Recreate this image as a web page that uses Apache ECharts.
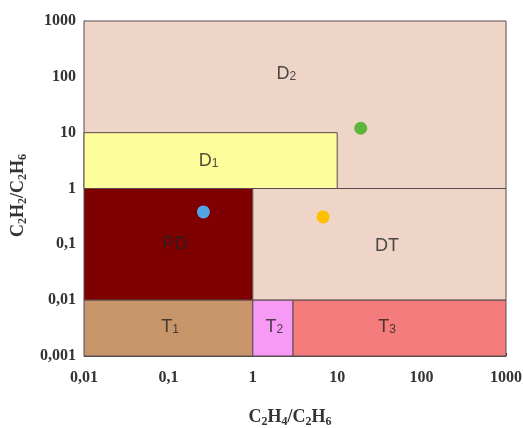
<!DOCTYPE html>
<html><head><meta charset="utf-8">
<script src="https://cdn.jsdelivr.net/npm/echarts@6/dist/echarts.min.js"></script>
<style>html,body{margin:0;padding:0;background:#fff}#c{width:523px;height:428px}</style>
</head><body><div id="c"></div>
<script>
// Zones: name, x0, x1, y0, y1, colour
const zoneNames = ['D2', 'D1', 'PD', 'DT', 'T1', 'T2', 'T3'];
const zoneX0 = [0.01, 0.01, 0.01, 1, 0.01, 1, 3];
const zoneX1 = [1000, 10, 1, 1000, 1, 3, 1000];
const zoneY0 = [1, 1, 0.01, 0.01, 0.001, 0.001, 0.001];
const zoneY1 = [1000, 10, 1, 1, 0.01, 0.01, 0.01];
const zoneColors = ['#EED5C8', '#FDFD9C', '#7E0000', '#EED5C8', '#C8956B', '#F79AF5', '#F57C7C'];
// zone label positions
const labelMain = ['D', 'D', 'PD', 'DT', 'T', 'T', 'T'];
const labelSub = ['2', '1', '', '', '1', '2', '3'];
const labelX = [2.5, 0.3, 0.12, 39, 0.105, 1.8, 39];
const labelY = [110, 3.1, 0.1, 0.093, 0.0033, 0.0033, 0.0033];
// Measured points
const pointX = [0.26, 6.8, 19];
const pointY = [0.38, 0.31, 12];
const pointColors = ['#52A6E6', '#FFC000', '#5EB53C'];
// tick labels
const xTickLabels = ['0,01', '0,1', '1', '10', '100', '1000'];
const yTickLabels = ['0,001', '0,01', '0,1', '1', '10', '100', '1000'];

const chart = echarts.init(document.getElementById('c'));
const zoneData = zoneNames.map((n, i) => [zoneX0[i], zoneX1[i], zoneY0[i], zoneY1[i], i]);
const labelData = zoneNames.map((n, i) => ({ value: [labelX[i], labelY[i]], main: labelMain[i], sub: labelSub[i] }));
const serif = '"Liberation Serif", "DejaVu Serif", serif';
const nameRich = {
  b: { fontFamily: serif, fontSize: 18, fontWeight: 'bold', color: '#333' },
  s: { fontFamily: serif, fontSize: 12, fontWeight: 'bold', color: '#333', padding: [9, 0, 0, 0] }
};
const sans = 'Arial, "Liberation Sans", sans-serif';
chart.setOption({
  animation: false,
  grid: { left: 84, right: 17, top: 21, bottom: 72, containLabel: false, outerBoundsMode: 'none' },
  xAxis: {
    type: 'log', logBase: 10, min: 0.01, max: 1000,
    splitLine: { show: false },
    axisLine: { lineStyle: { color: '#555', width: 1 } },
    axisTick: { inside: true, length: 3, lineStyle: { color: '#555' } },
    axisLabel: {
      margin: 14, fontFamily: serif, fontSize: 16, fontWeight: 'bold', color: '#333',
      formatter: v => xTickLabels[Math.round(Math.log10(v)) + 2]
    },
    name: '{b|C}{s|2}{b|H}{s|4}{b|/C}{s|2}{b|H}{s|6}',
    nameLocation: 'middle', nameGap: 51,
    nameTextStyle: { rich: nameRich, padding: [0, 10, 0, 0] }
  },
  yAxis: {
    type: 'log', logBase: 10, min: 0.001, max: 1000,
    splitLine: { show: false },
    axisLine: { lineStyle: { color: '#555', width: 1 } },
    axisTick: { inside: true, length: 3, lineStyle: { color: '#555' } },
    axisLabel: {
      margin: 8, fontFamily: serif, fontSize: 16, fontWeight: 'bold', color: '#333',
      formatter: v => yTickLabels[Math.round(Math.log10(v)) + 3]
    },
    name: '{b|C}{s|2}{b|H}{s|2}{b|/C}{s|2}{b|H}{s|6}',
    nameLocation: 'middle', nameGap: 54,
    nameTextStyle: { rich: nameRich, padding: [0, 14, 0, 0] }
  },
  series: [
    {
      type: 'custom',
      data: zoneData,
      z: 1,
      renderItem: (params, api) => {
        const p0 = api.coord([api.value(0), api.value(2)]);
        const p1 = api.coord([api.value(1), api.value(3)]);
        const idx = api.value(4);
        return {
          type: 'rect',
          shape: { x: p0[0], y: p1[1], width: p1[0] - p0[0], height: p0[1] - p1[1] },
          style: { fill: zoneColors[idx], stroke: '#5a4a4a', lineWidth: 1 }
        };
      }
    },
    {
      type: 'scatter',
      z: 3,
      symbolSize: 0,
      data: labelData,
      label: {
        show: true, position: 'inside',
        formatter: p => '{m|' + p.data.main + '}' + (p.data.sub ? '{s|' + p.data.sub + '}' : ''),
        rich: {
          m: { fontFamily: sans, fontSize: 18, color: '#222' },
          s: { fontFamily: sans, fontSize: 12, color: '#222', padding: [5, 0, 0, 0] }
        }
      }
    },
    {
      type: 'scatter',
      z: 4,
      symbolSize: 13,
      data: pointX.map((x, i) => ({ value: [x, pointY[i]], itemStyle: { color: pointColors[i], opacity: 1 } })),
      itemStyle: { borderWidth: 0 }
    }
  ]
});
</script></body></html>
